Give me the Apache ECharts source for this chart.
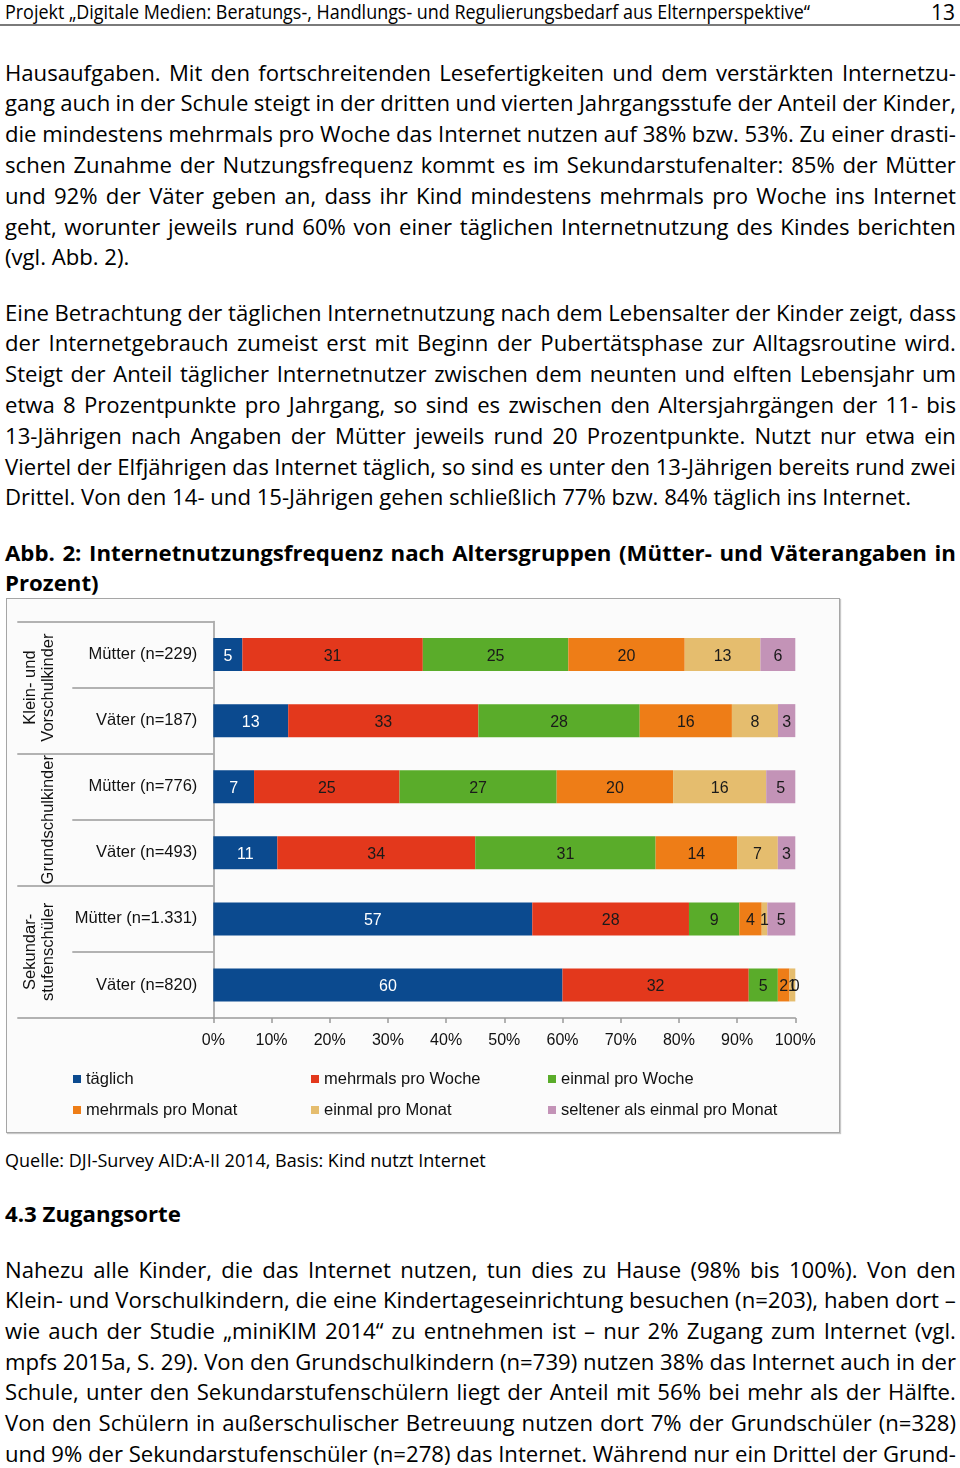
<!DOCTYPE html>
<html><head><meta charset="utf-8">
<script src="https://cdn.jsdelivr.net/npm/echarts@6/dist/echarts.min.js"></script>
<style>
html,body{margin:0;padding:0;background:#fff;}
body{width:960px;height:1468px;position:relative;overflow:hidden;font-family:"Open Sans","Noto Sans",sans-serif;color:#000;}
.abs{position:absolute;}
.hdr{left:5px;top:0;font-size:20px;line-height:24px;white-space:nowrap;transform-origin:0 0;}
.pg{right:5px;top:0;font-size:21px;line-height:24px;}
.rule{left:0;top:24px;width:960px;height:2px;background:#7a7a7a;}
.blk{left:5px;width:951px;}
.blk div{white-space:nowrap;}
.p div{height:30.8px;line-height:30.8px;}
.p3 div{height:30.7px;line-height:30.7px;}
.bold{font-weight:700;}
.t div{height:30px;line-height:30px;}
.frame{left:6px;top:598px;width:832px;height:533px;border:1px solid #a6a6a6;background:#fbfbfb;box-shadow:1px 1px 1px #c8c8c8;}
#chart{position:absolute;left:0;top:0;width:960px;height:1468px;pointer-events:none;}
</style></head>
<body>
<div class="abs hdr" id="hdr">Projekt „Digitale Medien: Beratungs-, Handlungs- und Regulierungsbedarf aus Elternperspektive“</div>
<div class="abs pg">13</div>
<div class="abs rule"></div>

<div class="abs blk p body" style="top:56.6px">
<div class="j">Hausaufgaben. Mit den fortschreitenden Lesefertigkeiten und dem verstärkten Internetzu-</div>
<div class="j">gang auch in der Schule steigt in der dritten und vierten Jahrgangsstufe der Anteil der Kinder,</div>
<div class="j">die mindestens mehrmals pro Woche das Internet nutzen auf 38% bzw. 53%. Zu einer drasti-</div>
<div class="j">schen Zunahme der Nutzungsfrequenz kommt es im Sekundarstufenalter: 85% der Mütter</div>
<div class="j">und 92% der Väter geben an, dass ihr Kind mindestens mehrmals pro Woche ins Internet</div>
<div class="j">geht, worunter jeweils rund 60% von einer täglichen Internetnutzung des Kindes berichten</div>
<div>(vgl. Abb. 2).</div>
</div>

<div class="abs blk p body" style="top:296.6px">
<div class="j">Eine Betrachtung der täglichen Internetnutzung nach dem Lebensalter der Kinder zeigt, dass</div>
<div class="j">der Internetgebrauch zumeist erst mit Beginn der Pubertätsphase zur Alltagsroutine wird.</div>
<div class="j">Steigt der Anteil täglicher Internetnutzer zwischen dem neunten und elften Lebensjahr um</div>
<div class="j">etwa 8 Prozentpunkte pro Jahrgang, so sind es zwischen den Altersjahrgängen der 11- bis</div>
<div class="j">13-Jährigen nach Angaben der Mütter jeweils rund 20 Prozentpunkte. Nutzt nur etwa ein</div>
<div class="j">Viertel der Elfjährigen das Internet täglich, so sind es unter den 13-Jährigen bereits rund zwei</div>
<div id="ref">Drittel. Von den 14- und 15-Jährigen gehen schließlich 77% bzw. 84% täglich ins Internet.</div>
</div>

<div class="abs blk t bold" style="top:538px">
<div class="j">Abb. 2: Internetnutzungsfrequenz nach Altersgruppen (Mütter- und Väterangaben in</div>
<div>Prozent)</div>
</div>

<div class="abs frame"></div>

<div class="abs blk t" style="top:1145px"><div id="quelle">Quelle: DJI-Survey AID:A-II 2014, Basis: Kind nutzt Internet</div></div>
<div class="abs blk t bold" style="top:1199px"><div id="head">4.3 Zugangsorte</div></div>

<div class="abs blk p3 body" style="top:1253.6px">
<div class="j">Nahezu alle Kinder, die das Internet nutzen, tun dies zu Hause (98% bis 100%). Von den</div>
<div class="j">Klein- und Vorschulkindern, die eine Kindertageseinrichtung besuchen (n=203), haben dort –</div>
<div class="j">wie auch der Studie „miniKIM 2014“ zu entnehmen ist – nur 2% Zugang zum Internet (vgl.</div>
<div class="j">mpfs 2015a, S. 29). Von den Grundschulkindern (n=739) nutzen 38% das Internet auch in der</div>
<div class="j">Schule, unter den Sekundarstufenschülern liegt der Anteil mit 56% bei mehr als der Hälfte.</div>
<div class="j">Von den Schülern in außerschulischer Betreuung nutzen dort 7% der Grundschüler (n=328)</div>
<div class="j">und 9% der Sekundarstufenschüler (n=278) das Internet. Während nur ein Drittel der Grund-</div>
</div>

<div id="chart"></div>

<script>
// ---------- data ----------
const categories = ['Mütter (n=229)', 'Väter (n=187)', 'Mütter (n=776)', 'Väter (n=493)', 'Mütter (n=1.331)', 'Väter (n=820)'];
const groups = ['Klein- und\nVorschulkinder', 'Grundschulkinder', 'Sekundar-\nstufenschüler'];
const seriesNames = ['täglich', 'mehrmals pro Woche', 'einmal pro Woche', 'mehrmals pro Monat', 'einmal pro Monat', 'seltener als einmal pro Monat'];
const taeglich      = [5, 13, 7, 11, 57, 60];
const mehrmalsWoche = [31, 33, 25, 34, 28, 32];
const einmalWoche   = [25, 28, 27, 31, 9, 5];
const mehrmalsMonat = [20, 16, 20, 14, 4, 2];
const einmalMonat   = [13, 8, 16, 7, 1, 1];
const seltener      = [6, 3, 5, 3, 5, 0];
const xTickValues = [0, 10, 20, 30, 40, 50, 60, 70, 80, 90, 100];
const colors = ['#0b4a8f', '#e3381c', '#5aac2a', '#ee7d17', '#e5bd6e', '#c393b7'];

// ---------- text fitting ----------
function natW(text, cls, fs) {
  const s = document.createElement('span');
  s.style.cssText = 'position:absolute;visibility:hidden;white-space:nowrap;font-family:"Open Sans","Noto Sans",sans-serif;';
  if (cls === 'bold') s.style.fontWeight = '700';
  s.style.fontSize = fs + 'px';
  s.textContent = text;
  document.body.appendChild(s);
  const w = s.getBoundingClientRect().width;
  s.remove();
  return w;
}
const bodyFs = 20 * 907 / natW(document.getElementById('ref').textContent, '', 20);
document.querySelectorAll('.body').forEach(el => el.style.fontSize = bodyFs + 'px');
const boldFs = 20 * 176 / natW('4.3 Zugangsorte', 'bold', 20);
document.querySelectorAll('.bold').forEach(el => el.style.fontSize = boldFs + 'px');
const qFs = 20 * 481 / natW(document.getElementById('quelle').textContent, '', 20);
document.getElementById('quelle').style.fontSize = qFs + 'px';
const hdr = document.getElementById('hdr');
hdr.style.transform = 'scaleX(' + (805 / hdr.getBoundingClientRect().width) + ')';

document.querySelectorAll('.j').forEach(el => {
  const words = el.textContent.trim().split(/\s+/);
  el.textContent = '';
  el.style.display = 'flex';
  el.style.justifyContent = 'space-between';
  let chars = 0;
  words.forEach(w => {
    const s = document.createElement('span');
    s.textContent = w; s.style.whiteSpace = 'pre';
    chars += w.length;
    el.appendChild(s);
  });
  let total = 0;
  el.querySelectorAll('span').forEach(s => total += s.getBoundingClientRect().width);
  const need = total + (words.length - 1) * 4;
  if (need > 951) el.style.letterSpacing = (-(need - 951) / chars) + 'px';
});

// ---------- chart ----------
const raw = [taeglich, mehrmalsWoche, einmalWoche, mehrmalsMonat, einmalMonat, seltener];
const totals = categories.map((c, i) => raw.reduce((a, arr) => a + arr[i], 0));
const font = 'Liberation Sans';

const series = raw.map((arr, s) => ({
  name: seriesNames[s],
  type: 'bar',
  stack: 'total',
  barWidth: 33,
  silent: true,
  data: arr.map((v, i) => v / totals[i] * 100),
  itemStyle: { color: colors[s] },
  label: {
    show: true,
    position: 'inside',
    offset: [0, 2],
    formatter: p => String(arr[p.dataIndex]),
    color: s === 0 ? '#ffffff' : '#1a1a1a',
    fontSize: 16,
    fontFamily: font,
    textBorderWidth: 0
  }
}));

const chart = echarts.init(document.getElementById('chart'), null, { renderer: 'canvas' });
chart.setOption({
  animation: false,
  backgroundColor: 'transparent',
  grid: { left: 213.3, top: 621.5, width: 582, height: 396.5 },
  xAxis: {
    type: 'value', min: 0, max: 100, interval: 10,
    axisLine: { show: true, lineStyle: { color: '#9a9a9a', width: 1.5 } },
    axisTick: { show: true, length: 5, lineStyle: { color: '#9a9a9a', width: 1.5 } },
    splitLine: { show: false },
    axisLabel: {
      margin: 15, fontSize: 16, color: '#111', fontFamily: font,
      customValues: xTickValues,
      formatter: v => v + '%'
    }
  },
  yAxis: [
    {
      type: 'category', data: categories, inverse: true, position: 'left',
      axisLine: { show: true, lineStyle: { color: '#9a9a9a', width: 1.5 } },
      axisTick: { show: true, interval: 0, length: 141, lineStyle: { color: '#9a9a9a', width: 1.5 } },
      axisLabel: { interval: 0, margin: 16, fontSize: 16.5, color: '#111', fontFamily: font, padding: [4, 0, 0, 0] }
    },
    {
      type: 'category', data: groups, inverse: true, position: 'left',
      axisLine: { show: false },
      axisTick: { show: true, interval: 0, length: 196, lineStyle: { color: '#9a9a9a', width: 1.5 } },
      axisLabel: { interval: 0, rotate: 90, margin: 156, fontSize: 16.5, lineHeight: 18, color: '#111', fontFamily: font }
    }
  ],
  legend: [0, 1, 2].map(c => ({
    data: [seriesNames[c], seriesNames[c + 3]],
    orient: 'vertical',
    left: [73, 311, 548][c],
    top: 1069,
    padding: 0,
    itemWidth: 8, itemHeight: 8, itemGap: 11,
    icon: 'rect',
    selectedMode: false,
    textStyle: { fontSize: 16.5, fontFamily: font, color: '#111', lineHeight: 20 }
  })),
  series: series
});
</script>
</body></html>
